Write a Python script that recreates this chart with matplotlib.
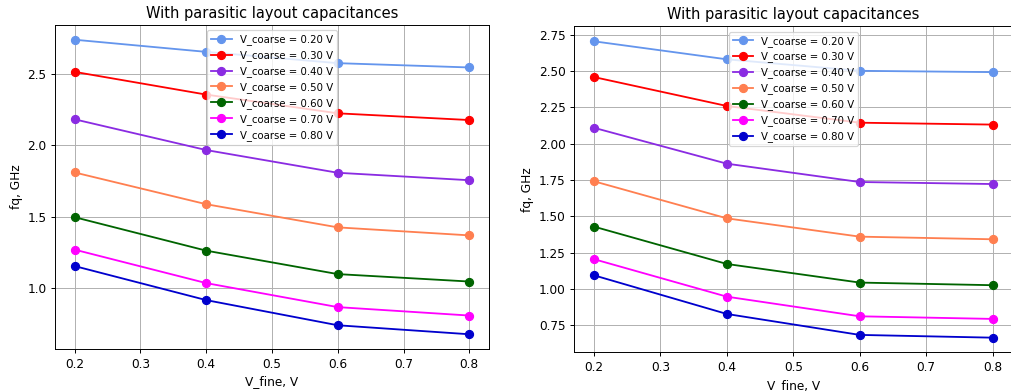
import matplotlib
matplotlib.use("Agg")
import matplotlib.pyplot as plt

v_fine = [0.2, 0.4, 0.6, 0.8]
v_coarse_labels = ["V_coarse = 0.20 V", "V_coarse = 0.30 V", "V_coarse = 0.40 V",
                   "V_coarse = 0.50 V", "V_coarse = 0.60 V", "V_coarse = 0.70 V",
                   "V_coarse = 0.80 V"]
colors = ["cornflowerblue", "red", "blueviolet", "coral", "darkgreen", "magenta", "mediumblue"]

# fq (GHz) per V_coarse, left panel
fq_left = [
    [2.739, 2.654, 2.575, 2.545],
    [2.514, 2.355, 2.224, 2.177],
    [2.182, 1.967, 1.808, 1.756],
    [1.810, 1.588, 1.426, 1.370],
    [1.497, 1.263, 1.099, 1.047],
    [1.270, 1.036, 0.868, 0.809],
    [1.155, 0.917, 0.741, 0.678],
]

# fq (GHz) per V_coarse, right panel
fq_right = [
    [2.705, 2.581, 2.502, 2.493],
    [2.459, 2.260, 2.145, 2.132],
    [2.110, 1.863, 1.737, 1.723],
    [1.742, 1.487, 1.361, 1.343],
    [1.430, 1.173, 1.045, 1.027],
    [1.206, 0.948, 0.813, 0.795],
    [1.095, 0.829, 0.685, 0.666],
]

DPI = 87.5
fig = plt.figure(figsize=(11.5545, 4.4801), dpi=DPI)
ax1 = fig.add_axes([0.0544, 0.1097, 0.4293, 0.8265])
ax2 = fig.add_axes([0.5678, 0.1008, 0.4337, 0.8316])

for ax, data in ((ax1, fq_left), (ax2, fq_right)):
    for series, label, color in zip(data, v_coarse_labels, colors):
        ax.plot(v_fine, series, marker="o", markersize=6.6, color=color, label=label)
    ax.set_title("With parasitic layout capacitances")
    ax.set_xlabel("V_fine, V")
    ax.set_ylabel("fq, GHz")
    ax.grid(True)
    ax.legend(loc="upper center", fontsize="small")

fig.savefig("out.png", dpi=DPI)
